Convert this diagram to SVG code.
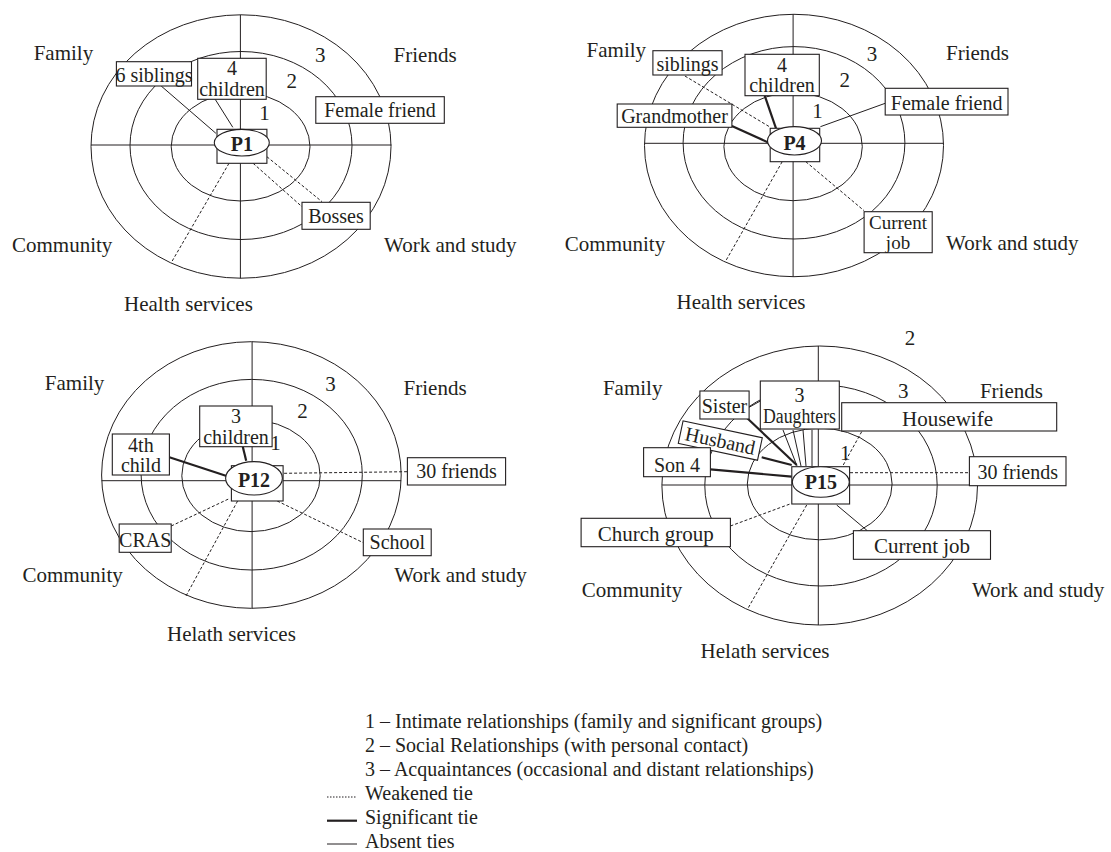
<svg xmlns="http://www.w3.org/2000/svg" width="1111" height="852" viewBox="0 0 1111 852">
<style>
.bg{fill:#fff}
.ring{fill:none;stroke:#231f20;stroke-width:1}
.box{fill:#fff;stroke:#231f20;stroke-width:1.1}
.t{font-family:"Liberation Serif","Times New Roman",serif;font-size:20px;fill:#231f20}
.lbl{font-size:21px}
.sm{font-size:19px}
.c{text-anchor:middle}
.b{font-weight:bold}
.thin{stroke:#231f20;stroke-width:1;fill:none}
.thick{stroke:#231f20;stroke-width:2.2;fill:none}
.dash{stroke:#231f20;stroke-width:1;stroke-dasharray:3 2;fill:none}
.dot{stroke:#231f20;stroke-width:1;stroke-dasharray:1.5 1.5;fill:none}
</style>
<rect class="bg" x="0" y="0" width="1111" height="852"/>

<!-- ===== Panel P1 ===== -->
<g id="rings-p1">
<ellipse class="ring" cx="241" cy="146.5" rx="150" ry="131.7"/>
<ellipse class="ring" cx="241" cy="145.5" rx="111" ry="94"/>
<ellipse class="ring" cx="240.6" cy="146.8" rx="69.4" ry="54.2"/>
<line class="ring" x1="91" y1="145" x2="391.5" y2="145"/>
<line class="ring" x1="240.4" y1="15" x2="240.4" y2="278.3"/>
</g>
<g id="labels-p1" class="t lbl">
<text x="33.7" y="60">Family</text>
<text x="393.6" y="62">Friends</text>
<text x="12" y="252">Community</text>
<text x="384" y="252">Work and study</text>
<text x="124" y="311">Health services</text>
<text class="c" x="320.3" y="62">3</text>
<text class="c" x="291.7" y="88">2</text>
<text class="c" x="264.5" y="120">1</text>
</g>

<!-- ===== Panel P4 ===== -->
<g id="rings-p4">
<ellipse class="ring" cx="794" cy="145.5" rx="149.5" ry="131.2"/>
<ellipse class="ring" cx="794" cy="142.8" rx="110.9" ry="96.2"/>
<ellipse class="ring" cx="793.1" cy="146.7" rx="69.2" ry="54"/>
<line class="ring" x1="644.5" y1="143.3" x2="943.5" y2="143.3"/>
<line class="ring" x1="793.1" y1="14.3" x2="793.1" y2="276.7"/>
</g>
<g id="labels-p4" class="t lbl">
<text x="586.6" y="57.3">Family</text>
<text x="946" y="60">Friends</text>
<text x="564.8" y="250.7">Community</text>
<text x="946" y="250">Work and study</text>
<text x="676.6" y="309">Health services</text>
<text class="c" x="872.1" y="60.7">3</text>
<text class="c" x="844.8" y="87.3">2</text>
<text class="c" x="817.5" y="118.3">1</text>
</g>

<!-- ===== Panel P12 ===== -->
<g id="rings-p12">
<ellipse class="ring" cx="251.4" cy="475" rx="149.8" ry="133.3"/>
<ellipse class="ring" cx="251.7" cy="474.7" rx="110.6" ry="95.3"/>
<ellipse class="ring" cx="251" cy="475.8" rx="69.2" ry="55.8"/>
<line class="ring" x1="101.6" y1="480.7" x2="401.2" y2="480.7"/>
<line class="ring" x1="252.1" y1="341.7" x2="252.1" y2="608.3"/>
</g>
<g id="labels-p12" class="t lbl">
<text x="44.8" y="390">Family</text>
<text x="403.6" y="395">Friends</text>
<text x="22.4" y="581.7">Community</text>
<text x="394.3" y="581.7">Work and study</text>
<text x="167" y="640.7">Helath services</text>
<text class="c" x="330.6" y="390.7">3</text>
<text class="c" x="302.4" y="418.3">2</text>
<text class="c" x="275.5" y="450">1</text>
</g>

<!-- ===== Panel P15 ===== -->
<g id="rings-p15">
<ellipse class="ring" cx="819.7" cy="485.5" rx="157.8" ry="139.5"/>
<ellipse class="ring" cx="821" cy="485.5" rx="116.2" ry="100.5"/>
<ellipse class="ring" cx="819.7" cy="484" rx="72.4" ry="55.8"/>
<line class="ring" x1="661.9" y1="485" x2="977.5" y2="485"/>
<line class="ring" x1="818.3" y1="346" x2="818.3" y2="625"/>
</g>
<g id="labels-p15" class="t lbl">
<text x="602.9" y="395">Family</text>
<text x="979.9" y="397.5">Friends</text>
<text x="581.8" y="597.3">Community</text>
<text x="971.9" y="597.3">Work and study</text>
<text x="700.6" y="658.3">Helath services</text>
<text class="c" x="910" y="345">2</text>
<text class="c" x="903.3" y="398.3">3</text>
<text class="c" x="845.3" y="460">1</text>
</g>

<!-- ===== Connectors ===== -->
<g id="connectors">
<!-- P1 -->
<line class="thin" x1="161.2" y1="86" x2="215.9" y2="133.3"/>
<line class="thin" x1="215.2" y1="99.3" x2="232.8" y2="127.3"/>
<line class="dash" x1="266.9" y1="156.7" x2="322" y2="201.7"/>
<line class="dash" x1="253.1" y1="163.3" x2="302" y2="206.7"/>
<line class="dash" x1="229" y1="163.3" x2="172.2" y2="261"/>
<!-- P4 -->
<line class="dash" x1="684.9" y1="76" x2="769.4" y2="126.7"/>
<line class="thick" x1="764.7" y1="95.7" x2="776" y2="128.3"/>
<line class="thick" x1="731.9" y1="126" x2="768.7" y2="142.7"/>
<line class="thin" x1="885.2" y1="103.3" x2="820.4" y2="126.7"/>
<line class="dash" x1="805.8" y1="161.7" x2="864.1" y2="210.7"/>
<line class="dash" x1="782.2" y1="161.7" x2="725.7" y2="261"/>
<!-- P12 -->
<line class="thick" x1="242.8" y1="446.7" x2="246.2" y2="460.7"/>
<line class="thick" x1="169.4" y1="457.3" x2="226.6" y2="476"/>
<line class="dash" x1="284.1" y1="473.3" x2="407.4" y2="471.7"/>
<line class="dash" x1="171.2" y1="526" x2="230" y2="498.3"/>
<line class="dash" x1="237.6" y1="501" x2="186" y2="596"/>
<line class="dash" x1="277.2" y1="501" x2="363.3" y2="542.7"/>
<!-- P15 -->
<line class="thick" x1="710.4" y1="469.3" x2="791.7" y2="476.7"/>
<line class="thick" x1="761.7" y1="457.3" x2="791.7" y2="465"/>
<line class="thick" x1="747.3" y1="418.3" x2="796.7" y2="465"/>
<line class="thin" x1="783" y1="430" x2="797" y2="466"/>
<line class="thin" x1="793" y1="430" x2="801" y2="466"/>
<line class="thin" x1="803" y1="430" x2="806" y2="466"/>
<line class="thin" x1="812" y1="430" x2="812" y2="466"/>
<line class="thin" x1="749.1" y1="407.3" x2="760.3" y2="401"/>
<line class="dash" x1="861.7" y1="431.7" x2="842.7" y2="466"/>
<line class="dash" x1="850" y1="472.7" x2="969.4" y2="472.7"/>
<line class="dash" x1="730.4" y1="526" x2="790" y2="504"/>
<line class="dash" x1="806.7" y1="505" x2="748" y2="608.3"/>
<line class="thin" x1="836.7" y1="505" x2="867.3" y2="530.7"/>
</g>

<!-- ===== Nodes P1 ===== -->
<g id="p1-siblings"><rect class="box" x="116.4" y="61.7" width="75.1" height="24.3"/><text class="t c" x="154" y="82">6 siblings</text></g>
<g id="p1-children"><rect class="box" x="197.7" y="58.3" width="68.5" height="41"/><text class="t c" x="232" y="75">4</text><text class="t c" x="232" y="96">children</text></g>
<g id="p1-female"><rect class="box" x="315.8" y="96.7" width="128.5" height="26.6"/><text class="t c" x="380" y="116.7">Female friend</text></g>
<g id="p1-bosses"><rect class="box" x="302" y="202.3" width="68.2" height="27"/><text class="t c" x="336" y="222.7">Bosses</text></g>
<g id="p1-center"><rect class="box" x="217" y="129.3" width="49.9" height="34"/><ellipse class="box" cx="241.8" cy="142.7" rx="27.5" ry="13.3"/><text class="t c b" x="241.8" y="150.5">P1</text></g>

<!-- ===== Nodes P4 ===== -->
<g id="p4-siblings"><rect class="box" x="652.9" y="50.7" width="69.2" height="24.3"/><text class="t c" x="687.5" y="70.7">siblings</text></g>
<g id="p4-children"><rect class="box" x="745" y="54.3" width="74.3" height="41.4"/><text class="t c" x="782" y="71.7">4</text><text class="t c" x="782" y="92.3">children</text></g>
<g id="p4-grandmother"><rect class="box" x="617.2" y="104" width="114.7" height="23.3"/><text class="t c" x="674.5" y="123.3">Grandmother</text></g>
<g id="p4-female"><rect class="box" x="885.2" y="88.3" width="122.8" height="26.7"/><text class="t c" x="946.6" y="110">Female friend</text></g>
<g id="p4-job"><rect class="box" x="864.1" y="211.7" width="68.1" height="41"/><text class="t c sm" x="898" y="228.5">Current</text><text class="t c sm" x="898" y="248.5">job</text></g>
<g id="p4-center"><rect class="box" x="770.2" y="128.3" width="49.5" height="33.4"/><ellipse class="box" cx="794.5" cy="140.8" rx="27" ry="14.2"/><text class="t c b" x="794.5" y="149.5">P4</text></g>

<!-- ===== Nodes P12 ===== -->
<g id="p12-children"><rect class="box" x="199.7" y="406" width="72.4" height="40.7"/><text class="t c" x="236" y="422.7">3</text><text class="t c" x="236" y="444">children</text></g>
<g id="p12-4thchild"><rect class="box" x="112.3" y="434" width="57.1" height="41"/><text class="t c" x="140.9" y="451.7">4th</text><text class="t c" x="140.9" y="471.7">child</text></g>
<g id="p12-friends"><rect class="box" x="407.4" y="457.7" width="98.2" height="27.3"/><text class="t c" x="456.5" y="478.3">30 friends</text></g>
<g id="p12-cras"><rect class="box" x="119.2" y="524" width="52" height="28.3"/><text class="t c" x="145.2" y="546.7">CRAS</text></g>
<g id="p12-school"><rect class="box" x="363.3" y="529" width="67.9" height="26.7"/><text class="t c" x="397.3" y="549.3">School</text></g>
<g id="p12-center"><rect class="box" x="231.4" y="465.7" width="51.7" height="35.3"/><ellipse class="box" cx="254" cy="478.3" rx="28.4" ry="16.7"/><text class="t c b" x="254" y="486.7">P12</text></g>

<!-- ===== Nodes P15 ===== -->
<g id="p15-sister"><rect class="box" x="699.9" y="391" width="49.2" height="28"/><text class="t c" x="724.5" y="413.3">Sister</text></g>
<g id="p15-daughters"><rect class="box" x="760.3" y="381" width="79" height="48"/><text class="t c" x="799.5" y="401.7">3</text><text class="t c" x="799.5" y="423.3" textLength="73" lengthAdjust="spacingAndGlyphs">Daughters</text></g>
<g id="p15-housewife"><rect class="box" x="841.7" y="402.7" width="215" height="28.3"/><text class="t c lbl" x="947.5" y="426">Housewife</text></g>
<g id="p15-husband" transform="translate(720.3 440.6) rotate(12)"><rect class="box" x="-40.5" y="-11.5" width="81" height="23"/><text class="t c" x="0" y="7">Husband</text></g>
<g id="p15-son"><rect class="box" x="643.6" y="447.7" width="66.8" height="29"/><text class="t c" x="677" y="471.7">Son 4</text></g>
<g id="p15-friends"><rect class="box" x="969.4" y="456.7" width="96.6" height="29"/><text class="t c" x="1017.7" y="479.3">30 friends</text></g>
<g id="p15-church"><rect class="box" x="581.1" y="518.3" width="149.3" height="28.4"/><text class="t c lbl" x="655.8" y="540.7">Church group</text></g>
<g id="p15-job"><rect class="box" x="853.4" y="530.7" width="137.1" height="28.6"/><text class="t c lbl" x="922" y="553.3">Current job</text></g>
<g id="p15-center"><rect class="box" x="791.8" y="466.7" width="57.8" height="37.3"/><ellipse class="box" cx="820.8" cy="482" rx="28.5" ry="15.3"/><text class="t c b" x="820.8" y="489.3">P15</text></g>

<!-- ===== Legend ===== -->
<g id="legend">
<text class="t" x="365" y="728">1 – Intimate relationships (family and significant groups)</text>
<text class="t" x="365" y="752">2 – Social Relationships (with personal contact)</text>
<text class="t" x="365" y="776">3 – Acquaintances (occasional and distant relationships)</text>
<line class="dot" x1="327" y1="797" x2="357" y2="797"/>
<text class="t" x="365" y="800">Weakened tie</text>
<line class="thick" x1="327" y1="820.7" x2="357" y2="820.7"/>
<text class="t" x="365" y="824">Significant tie</text>
<line class="thin" x1="327" y1="844" x2="357" y2="844"/>
<text class="t" x="365" y="848">Absent ties</text>
</g>
</svg>
